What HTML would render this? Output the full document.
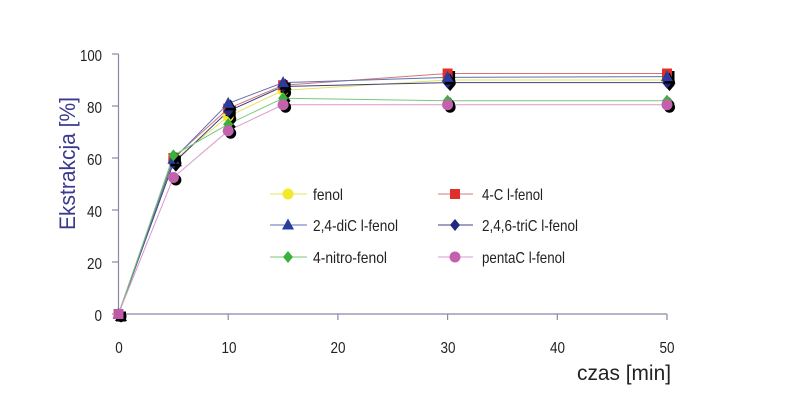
<!DOCTYPE html>
<html><head><meta charset="utf-8"><style>
html,body{margin:0;padding:0;background:#fff;}
svg{display:block;}
text{font-family:"Liberation Sans",Arial,sans-serif;fill:#222;}
</style></head><body>
<svg width="800" height="402" viewBox="0 0 800 402" xmlns="http://www.w3.org/2000/svg">
<defs>
<circle id="ci" cx="0" cy="0" r="5.5"/>
<rect id="sq" x="-5" y="-5" width="10" height="10"/>
<polygon id="tr" points="0,-6.5 6,4.5 -6,4.5"/>
<polygon id="di" points="0,-6 5,0 0,6 -5,0"/>
</defs>
<rect width="800" height="402" fill="#fff"/>
<!-- axes -->
<g stroke="#8a88a8" stroke-width="1.2" fill="none">
<line x1="118.5" y1="54" x2="118.5" y2="314"/>
<line x1="118.5" y1="314" x2="667" y2="314"/>
<line x1="112" y1="54" x2="118.5" y2="54"/>
<line x1="112" y1="106" x2="118.5" y2="106"/>
<line x1="112" y1="158" x2="118.5" y2="158"/>
<line x1="112" y1="210" x2="118.5" y2="210"/>
<line x1="112" y1="262" x2="118.5" y2="262"/>
<line x1="112" y1="314" x2="118.5" y2="314"/>
<line x1="118.5" y1="314" x2="118.5" y2="320"/>
<line x1="228.2" y1="314" x2="228.2" y2="320"/>
<line x1="337.9" y1="314" x2="337.9" y2="320"/>
<line x1="447.6" y1="314" x2="447.6" y2="320"/>
<line x1="557.3" y1="314" x2="557.3" y2="320"/>
<line x1="667" y1="314" x2="667" y2="320"/>
</g>
<!-- y tick labels -->
<g font-size="16" text-anchor="end">
<text x="102" y="61" textLength="22" lengthAdjust="spacingAndGlyphs">100</text>
<text x="102" y="113" textLength="15" lengthAdjust="spacingAndGlyphs">80</text>
<text x="102" y="165" textLength="15" lengthAdjust="spacingAndGlyphs">60</text>
<text x="102" y="217" textLength="15" lengthAdjust="spacingAndGlyphs">40</text>
<text x="102" y="269" textLength="15" lengthAdjust="spacingAndGlyphs">20</text>
<text x="102" y="321" textLength="7.5" lengthAdjust="spacingAndGlyphs">0</text>
</g>
<!-- x tick labels -->
<g font-size="16" text-anchor="middle">
<text x="119" y="353" textLength="7.5" lengthAdjust="spacingAndGlyphs">0</text>
<text x="229" y="353" textLength="15" lengthAdjust="spacingAndGlyphs">10</text>
<text x="338" y="353" textLength="15" lengthAdjust="spacingAndGlyphs">20</text>
<text x="448" y="353" textLength="15" lengthAdjust="spacingAndGlyphs">30</text>
<text x="557.5" y="353" textLength="15" lengthAdjust="spacingAndGlyphs">40</text>
<text x="667" y="353" textLength="15" lengthAdjust="spacingAndGlyphs">50</text>
</g>
<text x="577" y="380" font-size="21" textLength="94" lengthAdjust="spacingAndGlyphs">czas [min]</text>
<text transform="translate(75,163.5) rotate(-90)" text-anchor="middle" font-size="22" textLength="133" lengthAdjust="spacingAndGlyphs" style="fill:#3c3a8c">Ekstrakcja [%]</text>

<!-- series lines -->
<g fill="none" stroke-width="1">
<polyline stroke="#e4e460" points="118.5,314 173.4,160.6 228.2,116.4 283.1,90.4 447.6,80 667,80"/>
<polyline stroke="#d07878" points="118.5,314 173.4,158 228.2,108.6 283.1,85.2 447.6,73.5 667,73.5"/>
<polyline stroke="#404080" points="118.5,314 173.4,163.2 228.2,111.2 283.1,86.5 447.6,82.6 667,82.6"/>
<polyline stroke="#6070b0" points="118.5,314 173.4,159.3 228.2,103.4 283.1,82.6 447.6,77.4 667,76.6"/>
<polyline stroke="#78c878" points="118.5,314 173.4,155.4 228.2,124.2 283.1,98.2 447.6,100.8 667,100.8"/>
<polyline stroke="#d898cc" points="118.5,314 173.4,177.5 228.2,130.7 283.1,104.7 447.6,104.7 667,104.7"/>
</g>

<!-- markers: fenol -->
<g>
<g fill="#000" transform="translate(2.5,2.5)">
<use href="#ci" x="118.5" y="314"/><use href="#ci" x="173.4" y="160.6"/><use href="#ci" x="228.2" y="116.4"/><use href="#ci" x="283.1" y="90.4"/><use href="#ci" x="447.6" y="80"/><use href="#ci" x="667" y="80"/>
</g>
<g fill="#f2ea28">
<use href="#ci" x="118.5" y="314"/><use href="#ci" x="173.4" y="160.6"/><use href="#ci" x="228.2" y="116.4"/><use href="#ci" x="283.1" y="90.4"/><use href="#ci" x="447.6" y="80"/><use href="#ci" x="667" y="80"/>
</g>
</g>
<!-- 4-Cl -->
<g>
<g fill="#000" transform="translate(2.5,2.5)">
<use href="#sq" x="118.5" y="314"/><use href="#sq" x="173.4" y="158"/><use href="#sq" x="228.2" y="108.6"/><use href="#sq" x="283.1" y="85.2"/><use href="#sq" x="447.6" y="73.5"/><use href="#sq" x="667" y="73.5"/>
</g>
<g fill="#e0302c">
<use href="#sq" x="118.5" y="314"/><use href="#sq" x="173.4" y="158"/><use href="#sq" x="228.2" y="108.6"/><use href="#sq" x="283.1" y="85.2"/><use href="#sq" x="447.6" y="73.5"/><use href="#sq" x="667" y="73.5"/>
</g>
</g>
<!-- triCl -->
<g>
<g fill="#000" transform="translate(2.5,2.5)">
<use href="#di" x="118.5" y="314"/><use href="#di" x="173.4" y="163.2"/><use href="#di" x="228.2" y="111.2"/><use href="#di" x="283.1" y="86.5"/><use href="#di" x="447.6" y="82.6"/><use href="#di" x="667" y="82.6"/>
</g>
<g fill="#23287e">
<use href="#di" x="118.5" y="314"/><use href="#di" x="173.4" y="163.2"/><use href="#di" x="228.2" y="111.2"/><use href="#di" x="283.1" y="86.5"/><use href="#di" x="447.6" y="82.6"/><use href="#di" x="667" y="82.6"/>
</g>
</g>
<!-- diCl -->
<g>
<g fill="#000" transform="translate(2.5,2.5)">
<use href="#tr" x="118.5" y="314"/><use href="#tr" x="173.4" y="159.3"/><use href="#tr" x="228.2" y="103.4"/><use href="#tr" x="283.1" y="82.6"/><use href="#tr" x="447.6" y="77.4"/><use href="#tr" x="667" y="76.6"/>
</g>
<g fill="#2c3c9c">
<use href="#tr" x="118.5" y="314"/><use href="#tr" x="173.4" y="159.3"/><use href="#tr" x="228.2" y="103.4"/><use href="#tr" x="283.1" y="82.6"/><use href="#tr" x="447.6" y="77.4"/><use href="#tr" x="667" y="76.6"/>
</g>
</g>
<!-- nitro -->
<g>
<g fill="#000" transform="translate(2.5,2.5)">
<use href="#di" x="118.5" y="314"/><use href="#di" x="173.4" y="155.4"/><use href="#di" x="228.2" y="124.2"/><use href="#di" x="283.1" y="98.2"/><use href="#di" x="447.6" y="100.8"/><use href="#di" x="667" y="100.8"/>
</g>
<g fill="#3cb03c">
<use href="#di" x="118.5" y="314"/><use href="#di" x="173.4" y="155.4"/><use href="#di" x="228.2" y="124.2"/><use href="#di" x="283.1" y="98.2"/><use href="#di" x="447.6" y="100.8"/><use href="#di" x="667" y="100.8"/>
</g>
</g>
<!-- penta -->
<g>
<g fill="#000" transform="translate(2.5,2.5)">
<use href="#ci" x="173.4" y="177.5"/><use href="#ci" x="228.2" y="130.7"/><use href="#ci" x="283.1" y="104.7"/><use href="#ci" x="447.6" y="104.7"/><use href="#ci" x="667" y="104.7"/>
</g>
<g fill="#c262ac">
<use href="#ci" x="173.4" y="177.5"/><use href="#ci" x="228.2" y="130.7"/><use href="#ci" x="283.1" y="104.7"/><use href="#ci" x="447.6" y="104.7"/><use href="#ci" x="667" y="104.7"/>
</g>
<rect x="113.5" y="309" width="10" height="10" fill="#000" transform="translate(2.5,2.5)"/>
<rect x="113.5" y="309" width="10" height="10" fill="#c05aa8"/>
</g>

<!-- legend -->
<g stroke-width="1" fill="none">
<line x1="270" y1="194" x2="307" y2="194" stroke="#e4e460"/>
<line x1="438" y1="194" x2="473" y2="194" stroke="#d07878"/>
<line x1="270" y1="225" x2="307" y2="225" stroke="#6070b0"/>
<line x1="438" y1="225" x2="473" y2="225" stroke="#404080"/>
<line x1="270" y1="257" x2="307" y2="257" stroke="#78c878"/>
<line x1="438" y1="257" x2="473" y2="257" stroke="#d898cc"/>
</g>
<use href="#ci" x="288" y="194" fill="#f2ea28"/>
<use href="#sq" x="455" y="194" fill="#e0302c"/>
<use href="#tr" x="288" y="225" fill="#2c3c9c"/>
<use href="#di" x="455" y="225" fill="#23287e"/>
<use href="#di" x="288" y="257" fill="#3cb03c"/>
<use href="#ci" x="455" y="257" fill="#c262ac"/>
<g font-size="16">
<text x="313" y="200" textLength="30" lengthAdjust="spacingAndGlyphs">fenol</text>
<text x="482" y="200" textLength="61" lengthAdjust="spacingAndGlyphs">4-C l-fenol</text>
<text x="313" y="231" textLength="85" lengthAdjust="spacingAndGlyphs">2,4-diC l-fenol</text>
<text x="482" y="231" textLength="96" lengthAdjust="spacingAndGlyphs">2,4,6-triC l-fenol</text>
<text x="313" y="263" textLength="74" lengthAdjust="spacingAndGlyphs">4-nitro-fenol</text>
<text x="482" y="263" textLength="83" lengthAdjust="spacingAndGlyphs">pentaC l-fenol</text>
</g>
</svg>
</body></html>
